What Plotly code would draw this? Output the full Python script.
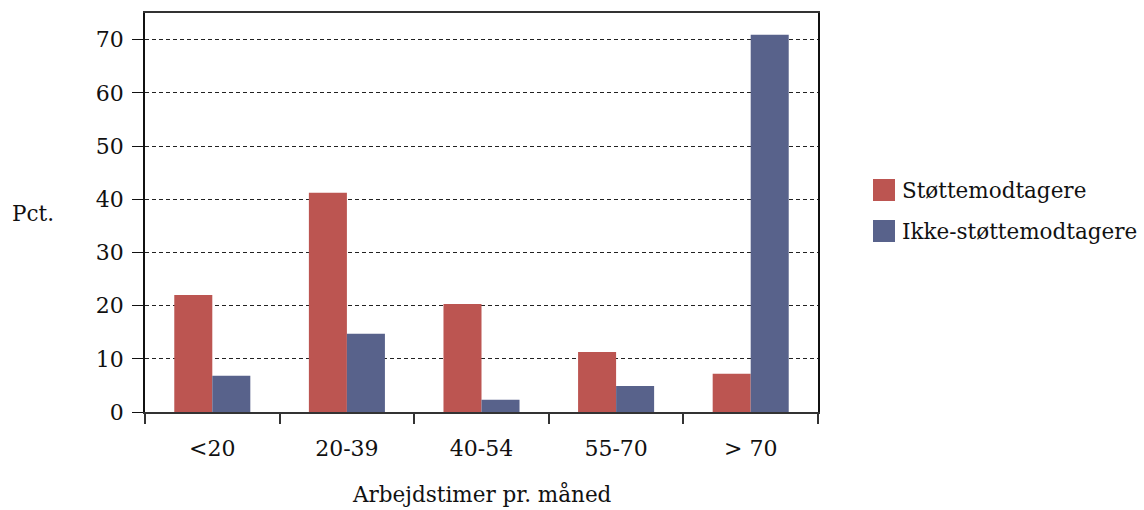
import plotly.graph_objects as go

categories = ["<20", "20-39", "40-54", "55-70", "> 70"]
stotte = [22.0, 41.2, 20.3, 11.3, 7.2]
ikke_stotte = [6.8, 14.7, 2.3, 4.9, 70.9]
series_names = ["Støttemodtagere", "Ikke-støttemodtagere"]
colors = ["#BC5551", "#58628B"]
y_ticks = [0, 10, 20, 30, 40, 50, 60, 70]

FONT = "DejaVu Serif"
W, H = 1144, 510
L, R, T, B = 145, 326, 13, 98
pw = W - L - R
ph = H - T - B

def px_x(x):
    return (x - L) / pw

def px_y(y):
    return (H - B - y) / ph

fig = go.Figure()
fig.add_trace(go.Bar(x=categories, y=stotte, name=series_names[0],
                     marker=dict(color=colors[0], line=dict(width=0))))
fig.add_trace(go.Bar(x=categories, y=ikke_stotte, name=series_names[1],
                     marker=dict(color=colors[1], line=dict(width=0))))

shapes = []
annotations = []
for i, (name, col) in enumerate(zip(series_names, colors)):
    cy = 190 + i * 41
    shapes.append(dict(type="rect", xref="paper", yref="paper",
                       x0=px_x(873), x1=px_x(895), y0=px_y(cy + 11), y1=px_y(cy - 11),
                       fillcolor=col, line=dict(width=0)))
    annotations.append(dict(text=name, xref="paper", yref="paper",
                            x=px_x(900), y=px_y(cy), xanchor="left", yanchor="middle",
                            showarrow=False, font=dict(family=FONT, size=21.5, color="#111")))

annotations.append(dict(text="Pct.", xref="paper", yref="paper",
                        x=px_x(10), y=px_y(213), xanchor="left", yanchor="middle",
                        showarrow=False, font=dict(family=FONT, size=21.5, color="#111")))
annotations.append(dict(text="Arbejdstimer pr. måned", xref="paper", yref="paper",
                        x=px_x(482), y=px_y(494), xanchor="center", yanchor="middle",
                        showarrow=False, font=dict(family=FONT, size=21.5, color="#111")))

fig.update_layout(
    width=W, height=H,
    margin=dict(l=L, r=R, t=T, b=B, pad=0),
    paper_bgcolor="white", plot_bgcolor="white",
    barmode="group", bargap=0.435, bargroupgap=0,
    showlegend=False,
    font=dict(family=FONT, size=21, color="#111"),
    shapes=shapes, annotations=annotations,
)
fig.update_xaxes(
    showline=True, linecolor="#333", linewidth=1.5, mirror=True,
    ticks="outside", tickson="boundaries", ticklen=10, tickcolor="#333", tickwidth=1.5,
    showgrid=False, ticklabelstandoff=16,
    tickfont=dict(family=FONT, size=22, color="#111"),
)
fig.update_yaxes(
    range=[0, 75], tickvals=y_ticks,
    showline=True, linecolor="#111", linewidth=1.5, mirror=True,
    ticks="outside", ticklen=11, tickcolor="#111", tickwidth=1,
    showgrid=True, gridcolor="#222", griddash="4px,3px", gridwidth=1,
    zeroline=False, ticklabelstandoff=4,
    tickfont=dict(family=FONT, size=22, color="#111"),
)

fig.write_html("out.html")
